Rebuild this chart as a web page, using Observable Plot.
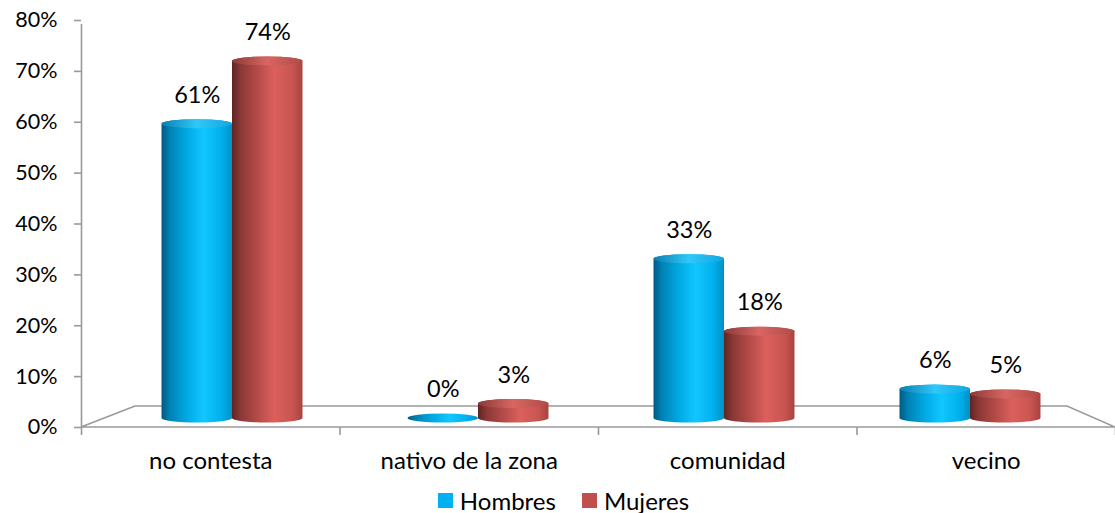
<!DOCTYPE html>
<html>
<head>
<meta charset="utf-8">
<script src="https://cdn.jsdelivr.net/npm/d3@7"></script>
<script src="https://cdn.jsdelivr.net/npm/@observablehq/plot@0.6"></script>
<style>
  html, body { margin: 0; padding: 0; background: #fff; }
  #wrap { position: relative; width: 1115px; height: 513px; font-family: Lato, "Open Sans", sans-serif; }
  #wrap svg { position: absolute; left: 0; top: 0; overflow: visible; }
  #legend { position: absolute; left: 0; top: 486px; width: 1115px; display: flex; justify-content: center; align-items: center; font-size: 24px; color: #000; padding-left: 12px; box-sizing: border-box; }
  #legend .sw { width: 15px; height: 15px; display: inline-block; margin-right: 7px; }
  #legend .item { display: flex; align-items: center; margin: 0 13px; }
</style>
</head>
<body>
<div id="wrap"></div>
<script>
const categories = ["no contesta", "nativo de la zona", "comunidad", "vecino"];
const series = ["Hombres", "Mujeres"];
const hombres = [0.61, 0.00, 0.33, 0.06];
const mujeres = [0.74, 0.03, 0.18, 0.05];
const yTicks = [0, 0.1, 0.2, 0.3, 0.4, 0.5, 0.6, 0.7, 0.8];
const seriesColors = {Hombres: "#00B0F0", Mujeres: "#C0504D"};

const rows = [];
categories.forEach((c, i) => {
  rows.push({cat: c, sex: "Hombres", value: hombres[i]});
  rows.push({cat: c, sex: "Mujeres", value: mujeres[i]});
});

const W = 1115, H = 480;
const fmt = d3.format(".0%");
const font = "Lato, 'Open Sans', sans-serif";

// Frame plot: axes + floor
function floor(index, scales) {
  const {x, y} = scales;
  const x0 = x(0), x1 = x(categories.length), y0 = y(0);
  const p = `M${x0},${y0}L${x0 + 54},${y0 - 21}L${x1 - 48},${y0 - 21}L${x1},${y0}Z`;
  return d3.create("svg:path").attr("d", p).attr("fill", "none")
    .attr("stroke", "#999").attr("stroke-width", 1.6).node();
}

const frame = Plot.plot({
  width: W, height: H,
  marginLeft: 81, marginRight: 0, marginTop: 20, marginBottom: 53,
  style: {fontFamily: font, fontSize: "20px", color: "#000", background: "transparent"},
  x: {type: "linear", domain: [0, categories.length], axis: null},
  y: {domain: [0, 0.8], axis: null},
  marks: [
    floor,
    Plot.axisY({ticks: yTicks, tickFormat: fmt, tickSize: 7, tickPadding: 17, stroke: "#999", strokeWidth: 1.6, fill: "#000", fontSize: 21.5}),
    Plot.ruleX([0], {y1: 0, y2: 0.8, stroke: "#999", strokeWidth: 1.6, insetBottom: -4}),
    Plot.axisX({ticks: d3.range(categories.length + 1), tickFormat: () => "", tickSize: 8, stroke: "#999", strokeWidth: 1.6}),
    Plot.axisX({ticks: categories.map((c, i) => i + 0.5), tickFormat: (d) => categories[Math.round(d - 0.5)], tickSize: 0, tickPadding: 24, fill: "#000", fontSize: 24})
  ]
});

// Bars plot (cylinder plane)
const bars = Plot.plot({
  width: W, height: H,
  marginLeft: 109, marginRight: 22, marginTop: 32, marginBottom: 62,
  style: {fontFamily: font, fontSize: "20px", color: "#000", background: "transparent"},
  fx: {domain: categories, padding: 0, axis: null, round: false},
  x: {domain: series, paddingInner: 0, paddingOuter: 0.745, axis: null, round: false},
  y: {domain: [0, 0.8], axis: null},
  color: {type: "identity"},
  marks: [
    Plot.barY(rows, {fx: "cat", x: "sex", y: "value", fill: d => `url(#g-${d.sex})`, rx: 100, ry: 4.5, insetTop: -4.5, insetBottom: -4.5}),
    Plot.barY(rows.filter(d => d.value > 0), {fx: "cat", x: "sex", y1: "value", y2: "value", fill: d => `url(#t-${d.sex})`, rx: 100, ry: 4.5, insetTop: -4.5, insetBottom: -4.5}),
    Plot.text(rows, {fx: "cat", x: "sex", y: "value", text: d => fmt(d.value), dy: -29, fill: "#000", fontSize: 23.5})
  ]
});

const defs = d3.select(bars).insert("defs", ":first-child");
function grad(id, stops) {
  const g = defs.append("linearGradient").attr("id", id).attr("x1", "0").attr("x2", "1").attr("y1", "0").attr("y2", "0");
  stops.forEach(([o, c]) => g.append("stop").attr("offset", o).attr("stop-color", c));
}
grad("g-Hombres", [[0, "#005a80"], [0.12, "#0082b5"], [0.35, "#00a8e2"], [0.6, "#12c6ff"], [0.85, "#00b0ec"], [1, "#0090c6"]]);
grad("g-Mujeres", [[0, "#5e2523"], [0.12, "#8a3836"], [0.35, "#b24a47"], [0.6, "#dc605c"], [0.85, "#c95551"], [1, "#a9433f"]]);
grad("t-Hombres", [[0, "#0a7fb0"], [0.5, "#30c8f8"], [1, "#10a8e0"]]);
grad("t-Mujeres", [[0, "#8c3a38"], [0.5, "#d86662"], [1, "#b04a46"]]);

const wrap = document.getElementById("wrap");
wrap.appendChild(frame);
wrap.appendChild(bars);

const legend = document.createElement("div");
legend.id = "legend";
legend.innerHTML = series.map(s => `<span class="item"><span class="sw" style="background:${seriesColors[s]}"></span>${s}</span>`).join("");
wrap.appendChild(legend);
</script>
</body>
</html>
